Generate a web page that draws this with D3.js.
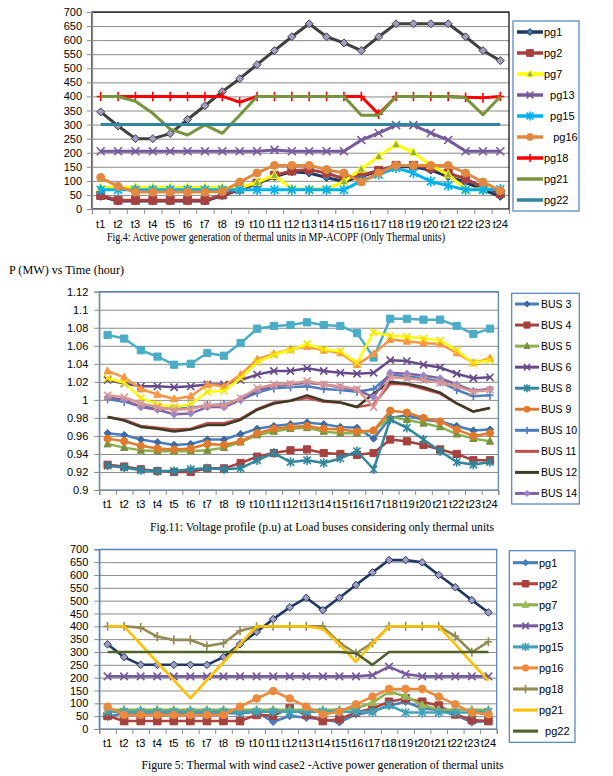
<!DOCTYPE html>
<html><head><meta charset="utf-8">
<script src="https://cdn.jsdelivr.net/npm/d3@7"></script>
<style>
body{margin:0;background:#fff;}
svg{display:block;}
text{font-family:"Liberation Sans",Arial,sans-serif;fill:#000;}
.cap{font-family:"Liberation Serif","Times New Roman",serif;}
</style></head><body>
<svg id="c" width="613" height="776"></svg>
<script>
// ---------- shared categories ----------
const hours = ["t1","t2","t3","t4","t5","t6","t7","t8","t9","t10","t11","t12","t13","t14","t15","t16","t17","t18","t19","t20","t21","t22","t23","t24"];

// ---------- Fig.4 (MW) ----------
const fig4YTicks = [0,50,100,150,200,250,300,350,400,450,500,550,600,650,700];
const fig4Unlabeled = [345,295,250,250,268,318,367,417,463,513,563,612,658,612,590,563,612,658,658,658,658,612,563,527];
const fig4Pg1  = [45,28,28,28,28,28,28,48,68,90,115,132,128,112,98,115,135,150,150,138,115,95,68,45];
const fig4Pg2  = [48,31,31,31,31,31,31,50,71,92,120,135,140,128,107,120,137,155,155,146,128,107,78,55];
const fig4Pg7  = [77,77,77,77,77,77,77,77,75,95,120,71,71,71,98,142,187,229,201,155,122,71,71,69];
const fig4Pg13 = [205,205,205,205,205,205,205,205,205,205,210,205,205,205,205,245,270,298,298,270,245,205,205,205];
const fig4Pg15 = [68,68,68,68,68,68,68,68,68,68,68,68,68,68,68,100,122,146,128,98,83,68,68,70];
const fig4Pg16 = [112,80,60,60,60,60,60,62,96,128,155,155,155,140,128,96,128,155,155,155,155,128,96,65];
const fig4Pg18 = [400,400,400,400,400,400,400,400,380,400,400,400,400,400,400,400,337,400,400,400,400,397,395,400];
const fig4Pg21 = [400,400,383,340,284,263,299,269,333,400,400,400,400,400,400,333,333,400,400,400,400,395,335,400];
const fig4Pg22 = [300,300,300,300,300,300,300,300,300,300,300,300,300,300,300,300,300,300,300,300,300,300,300,300];

// ---------- Fig.11 (p.u) ----------
const fig11YTicks = [0.9,0.92,0.94,0.96,0.98,1,1.02,1.04,1.06,1.08,1.1,1.12];
const bus3  = [0.963,0.961,0.956,0.953,0.950,0.951,0.956,0.956,0.962,0.968,0.971,0.973,0.975,0.973,0.970,0.969,0.957,0.980,0.983,0.978,0.976,0.971,0.966,0.967];
const bus4  = [0.928,0.926,0.923,0.921,0.920,0.920,0.924,0.924,0.930,0.937,0.941,0.944,0.945,0.941,0.940,0.939,0.941,0.956,0.954,0.950,0.945,0.940,0.933,0.933];
const bus5  = [0.951,0.947,0.944,0.943,0.943,0.943,0.944,0.947,0.953,0.961,0.965,0.968,0.969,0.965,0.963,0.963,0.966,0.981,0.978,0.974,0.970,0.962,0.957,0.954];
const bus6  = [1.022,1.018,1.015,1.015,1.014,1.015,1.017,1.017,1.022,1.028,1.032,1.032,1.035,1.032,1.030,1.029,1.030,1.044,1.043,1.039,1.036,1.029,1.024,1.025];
const bus8  = [0.927,0.925,0.922,0.921,0.921,0.923,0.924,0.923,0.924,0.933,0.941,0.931,0.933,0.930,0.935,0.943,0.923,0.978,0.969,0.956,0.943,0.931,0.928,0.931];
const bus9  = [0.957,0.954,0.949,0.946,0.945,0.946,0.951,0.950,0.954,0.963,0.968,0.970,0.971,0.968,0.967,0.965,0.966,0.988,0.986,0.980,0.976,0.967,0.960,0.963];
const bus10 = [1.001,0.998,0.993,0.991,0.990,0.991,0.994,0.995,1.000,1.008,1.013,1.014,1.015,1.012,1.011,1.009,1.012,1.028,1.026,1.024,1.020,1.011,1.004,1.005];
const bus11 = [0.981,0.978,0.971,0.969,0.967,0.968,0.974,0.974,0.979,0.990,0.997,0.999,1.002,0.998,0.997,0.992,0.995,1.018,1.017,1.012,1.007,0.996,0.987,0.991];
const bus12 = [0.981,0.977,0.970,0.968,0.965,0.967,0.972,0.972,0.978,0.989,0.996,0.999,1.005,0.999,0.997,0.992,1.007,1.020,1.018,1.014,1.008,0.996,0.987,0.991];
const bus14 = [1.003,1.000,0.992,0.989,0.984,0.985,0.992,0.992,1.000,1.011,1.015,1.017,1.019,1.017,1.014,1.011,1.003,1.030,1.029,1.027,1.024,1.017,1.010,1.012];
const busExtraA = [1.072,1.068,1.055,1.048,1.039,1.040,1.052,1.049,1.063,1.079,1.082,1.083,1.086,1.083,1.082,1.074,1.047,1.090,1.090,1.089,1.089,1.082,1.073,1.079];
const busExtraB = [1.032,1.025,1.012,1.006,1.001,1.004,1.017,1.015,1.028,1.045,1.051,1.056,1.059,1.055,1.052,1.039,1.051,1.067,1.065,1.063,1.062,1.052,1.041,1.046];
const busExtraC = [1.024,1.019,1.002,0.995,0.992,0.995,1.009,1.010,1.024,1.042,1.050,1.055,1.062,1.056,1.054,1.041,1.075,1.071,1.070,1.068,1.066,1.055,1.041,1.044];
const busExtraD = [1.005,1.003,0.996,0.992,0.989,0.990,0.994,0.994,1.002,1.013,1.017,1.018,1.021,1.017,1.015,1.012,0.992,1.025,1.024,1.022,1.019,1.015,1.009,1.011];

// ---------- Figure 5 (MW) ----------
const fig5YTicks = [0,50,100,150,200,250,300,350,400,450,500,550,600,650,700];
const fig5Unlabeled = [330,280,250,250,250,250,250,280,330,378,428,474,511,463,511,561,610,658,658,649,600,552,502,454];
const fig5Pg1  = [48,62,62,62,62,62,62,62,62,67,28,51,44,38,26,57,67,91,106,80,74,55,26,31];
const fig5Pg2  = [51,31,31,31,31,31,31,31,31,55,52,80,55,31,38,64,80,106,119,106,91,57,35,31];
const fig5Pg7  = [75,75,75,75,75,75,75,75,75,75,75,75,75,75,75,80,103,145,128,93,75,75,75,75];
const fig5Pg13 = [205,205,205,205,205,205,205,205,205,205,205,205,205,205,205,205,210,243,214,205,205,205,205,205];
const fig5Pg15 = [67,67,67,67,67,67,67,67,67,67,67,67,67,67,67,67,67,93,64,64,64,64,64,67];
const fig5Pg16 = [87,55,55,55,55,55,55,55,87,119,148,119,87,57,67,96,126,156,156,156,126,96,64,57];
const fig5Pg18 = [400,400,395,360,347,347,323,334,383,398,400,400,400,400,335,295,335,400,400,400,400,362,299,340];
const fig5Pg21 = [400,400,330,260,190,120,190,260,330,400,400,400,400,390,330,262,334,400,400,400,400,330,258,188];
const fig5Pg22 = [300,300,300,300,300,300,300,300,300,300,300,300,300,300,300,295,250,300,300,300,300,300,300,300];

// ---------- drawing ----------
const svg = d3.select("#c");

function markerPath(type, r){
  switch(type){
    case "diamond": return `M0,${-r}L${r},0L0,${r}L${-r},0Z`;
    case "square": return `M${-r},${-r}H${r}V${r}H${-r}Z`;
    case "triangle": return `M0,${-r*1.15}L${r},${r*0.8}L${-r},${r*0.8}Z`;
    case "circle": return `M${-r},0A${r},${r} 0 1,0 ${r},0A${r},${r} 0 1,0 ${-r},0Z`;
    case "x": return `M${-r},${-r}L${r},${r}M${-r},${r}L${r},${-r}`;
    case "star": return `M${-r},${-r}L${r},${r}M${-r},${r}L${r},${-r}M0,${-r*1.3}L0,${r*1.3}`;
    case "plus": return `M${-r},0L${r},0M0,${-r*1.2}L0,${r*1.2}`;
  }
  return "";
}
const openMarkers = new Set(["x","star","plus"]);

function drawMarker(g, s, r, sw){
  const p = g.append("path").attr("d", markerPath(s.marker, r));
  if (openMarkers.has(s.marker)) p.attr("fill","none").attr("stroke", s.mstroke||s.color).attr("stroke-width", sw||1.6);
  else p.attr("fill", s.mfill||s.color).attr("stroke", s.mstroke||s.mfill||s.color).attr("stroke-width", 1);
  return p;
}

function drawChart(cfg){
  const g = svg.append("g");
  const x = d3.scaleBand().domain(hours).range([cfg.left, cfg.right]).padding(0);
  const bw = x.bandwidth();
  const y = d3.scaleLinear().domain(cfg.domain).range([cfg.bottom, cfg.top]);
  const w = cfg.right - cfg.left;

  // gridlines
  const grid = g.append("g").attr("transform",`translate(${cfg.left},0)`)
    .call(d3.axisLeft(y).tickValues(cfg.ticks).tickSize(-w).tickFormat(""));
  grid.select(".domain").remove();
  grid.selectAll("line").attr("stroke","#8a8a8a").attr("stroke-width",1);

  // plot border
  g.append("rect").attr("x",cfg.left).attr("y",cfg.top).attr("width",w).attr("height",cfg.bottom-cfg.top)
    .attr("fill","none").attr("stroke",cfg.borderColor).attr("stroke-width",1.2);

  // y axis
  const ya = g.append("g").attr("transform",`translate(${cfg.left},0)`)
    .call(d3.axisLeft(y).tickValues(cfg.ticks).tickSize(5).tickPadding(cfg.yPad).tickFormat(cfg.fmt));
  ya.select(".domain").attr("stroke",cfg.leftAxisColor).attr("stroke-width",1.2);
  ya.selectAll("line").attr("stroke","#8a8a8a");
  ya.selectAll("text").style("font-size","11px").attr("fill","#000");

  // x axis: labels centred in bands, ticks on boundaries
  const xa = g.append("g").attr("transform",`translate(0,${cfg.bottom})`)
    .call(d3.axisBottom(x).tickSize(0));
  xa.select(".domain").remove();
  xa.selectAll("text").style("font-size","11px").attr("fill","#000").attr("y",cfg.xLabelOff).attr("dy",0);
  const xb = d3.scaleLinear().domain([0,hours.length]).range([cfg.left,cfg.right]);
  const xt = g.append("g").attr("transform",`translate(0,${cfg.bottom})`)
    .call(d3.axisBottom(xb).tickValues(d3.range(hours.length+1)).tickSize(5).tickFormat(""));
  xt.select(".domain").attr("stroke","#8a8a8a").attr("stroke-width",1.2);
  xt.selectAll("line").attr("stroke","#8a8a8a");

  // series
  const line = d3.line().x((d,i)=>x(hours[i])+bw/2).y(d=>y(d));
  cfg.series.forEach(s=>{
    const sg = g.append("g");
    sg.append("path").attr("d", line(s.values)).attr("fill","none")
      .attr("stroke", s.color).attr("stroke-width", cfg.lw).attr("stroke-linejoin","round");
    if (s.marker){
      s.values.forEach((v,i)=>{
        const mg = sg.append("g").attr("transform",`translate(${x(hours[i])+bw/2},${y(v)})`);
        drawMarker(mg, s, cfg.mr);
      });
    }
  });

  // legend
  const L = cfg.legend;
  g.append("rect").attr("x",L.x).attr("y",L.y).attr("width",L.w).attr("height",L.h)
    .attr("fill","#fff").attr("stroke","#4f7fbd").attr("stroke-width",1.2);
  cfg.series.filter(s=>s.name!==null).forEach((s,i)=>{
    const cy = L.y0 + i*L.dy;
    g.append("line").attr("x1",L.lx1).attr("x2",L.lx2).attr("y1",cy).attr("y2",cy)
      .attr("stroke",s.color).attr("stroke-width",cfg.lw+0.5);
    if (s.marker){
      const mg = g.append("g").attr("transform",`translate(${(L.lx1+L.lx2)/2},${cy})`);
      drawMarker(mg, s, cfg.mr*0.85);
    }
    g.append("text").attr("x",L.tx).attr("y",cy).attr("dy","0.36em")
      .style("font-size",L.fs).style("white-space","pre").text(s.name);
  });
}

function caption(txt, cx, y, len, fs){
  svg.append("text").attr("class","cap").attr("x",cx).attr("y",y).attr("text-anchor","middle")
    .style("font-size",fs||"12px").attr("textLength",len).attr("lengthAdjust","spacingAndGlyphs").text(txt);
}

const fmtPu = v => String(+v.toFixed(2));

// Fig.4
drawChart({
  left:92, right:509, top:12, bottom:209, domain:[0,700], ticks:fig4YTicks, fmt:d3.format("d"),
  borderColor:"#000", leftAxisColor:"#8a8a8a", yPad:5, xLabelOff:18.5, lw:3, mr:4,
  series:[
    {name:null,     values:fig4Unlabeled, color:"#404040", marker:"diamond", mfill:"#a39dc6", mstroke:"#404040"},
    {name:"pg1",    values:fig4Pg1,  color:"#1f3763", marker:"diamond", mfill:"#4a74b0", mstroke:"#1f3763"},
    {name:"pg2",    values:fig4Pg2,  color:"#a5423f", marker:"square"},
    {name:"pg7",    values:fig4Pg7,  color:"#ffff00", marker:"triangle", mfill:"#8fae4f", mstroke:"#ffff00"},
    {name:"  pg13", values:fig4Pg13, color:"#765a9b", marker:"x"},
    {name:"  pg15", values:fig4Pg15, color:"#00b0f0", marker:"star"},
    {name:"   pg16",values:fig4Pg16, color:"#e3883f", marker:"circle"},
    {name:"pg18",   values:fig4Pg18, color:"#ff0000", marker:"plus"},
    {name:"pg21",   values:fig4Pg21, color:"#77933c"},
    {name:"pg22",   values:fig4Pg22, color:"#31859c"}
  ],
  legend:{x:513, y:21, w:66, h:190, y0:32, dy:21, lx1:517, lx2:543, tx:544, fs:"11px"}
});
caption("Fig.4: Active power generation of thermal units in MP-ACOPF (Only Thermal units)", 276, 240.5, 338);
svg.append("text").attr("class","cap").attr("x",9).attr("y",274).style("font-size","12px")
  .attr("textLength",115).attr("lengthAdjust","spacingAndGlyphs").text("P (MW) vs Time (hour)");

// Fig.11
drawChart({
  left:99.3, right:498.3, top:291.7, bottom:490, domain:[0.9,1.12], ticks:fig11YTicks, fmt:fmtPu,
  borderColor:"#4f7fbd", leftAxisColor:"#8a8a8a", yPad:6, xLabelOff:18, lw:2.5, mr:3.6,
  series:[
    {name:"BUS 3",  values:bus3,  color:"#4a7ebb", marker:"diamond", mfill:"#3d6aa5"},
    {name:"BUS 4",  values:bus4,  color:"#a5423f", marker:"square"},
    {name:"BUS 5",  values:bus5,  color:"#8db050", marker:"triangle", mfill:"#77933c"},
    {name:"BUS 6",  values:bus6,  color:"#66498a", marker:"x"},
    {name:"BUS 8",  values:bus8,  color:"#31869c", marker:"star"},
    {name:"BUS 9",  values:bus9,  color:"#e07a2c", marker:"circle"},
    {name:"BUS 10", values:bus10, color:"#4a7ebb", marker:"plus"},
    {name:"BUS 11", values:bus11, color:"#c0504d"},
    {name:"BUS 12", values:bus12, color:"#3f3b24"},
    {name:"BUS 14", values:bus14, color:"#8064a2", marker:"diamond", mfill:"#9a86c4"},
    {name:null, values:busExtraA, color:"#4bacc6", marker:"square"},
    {name:null, values:busExtraB, color:"#f79646", marker:"triangle"},
    {name:null, values:busExtraC, color:"#ffff00", marker:"x", mstroke:"#f5e000"},
    {name:null, values:busExtraD, color:"#d99694", marker:"x"}
  ],
  legend:{x:511.7, y:293.3, w:67.6, h:210.7, y0:304, dy:21.05, lx1:515, lx2:539, tx:541, fs:"10.5px"}
});
caption("Fig.11: Voltage profile (p.u) at Load buses considering only thermal units", 322, 531, 344);

// Figure 5
drawChart({
  left:99.3, right:496.7, top:549.3, bottom:729, domain:[0,700], ticks:fig5YTicks, fmt:d3.format("d"),
  borderColor:"#4f7fbd", leftAxisColor:"#4f7fbd", yPad:6, xLabelOff:18, lw:2.6, mr:3.8,
  series:[
    {name:null,   values:fig5Unlabeled, color:"#1f3864", marker:"diamond", mfill:"#a39dc6", mstroke:"#1f3864"},
    {name:"pg1",  values:fig5Pg1,  color:"#4a7ebb", marker:"diamond"},
    {name:"pg2",  values:fig5Pg2,  color:"#b0433f", marker:"square", mfill:"#a5423f"},
    {name:"pg7",  values:fig5Pg7,  color:"#8db050", marker:"triangle", mfill:"#9bbb59"},
    {name:"pg13", values:fig5Pg13, color:"#765a9b", marker:"x"},
    {name:"pg15", values:fig5Pg15, color:"#3ea2ba", marker:"star"},
    {name:"pg16", values:fig5Pg16, color:"#ec8a3c", marker:"circle"},
    {name:"pg18", values:fig5Pg18, color:"#948a54", marker:"plus"},
    {name:"pg21", values:fig5Pg21, color:"#ffc000"},
    {name:"  pg22", values:fig5Pg22, color:"#4f6228"}
  ],
  legend:{x:509.3, y:550.7, w:65.7, h:191.6, y0:562.7, dy:21.05, lx1:513, lx2:538, tx:539, fs:"11px"}
});
caption("Figure 5: Thermal with wind case2 -Active power generation of thermal units", 322.5, 769, 362);
</script>
</body></html>
